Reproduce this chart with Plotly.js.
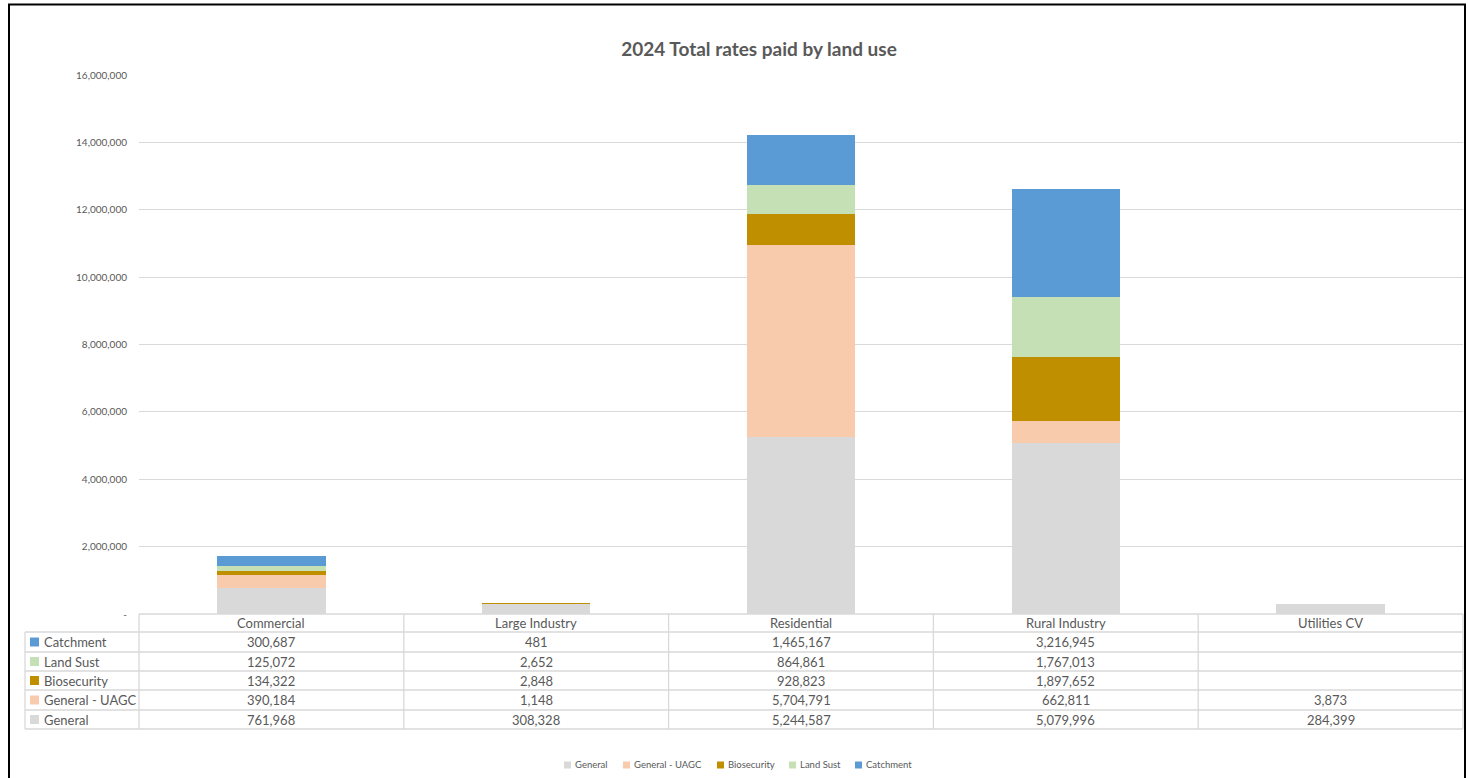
<!DOCTYPE html>
<html>
<head>
<meta charset="utf-8">
<script src="https://cdn.plot.ly/plotly-3.0.1.min.js"></script>
<style>html,body{margin:0;padding:0;background:#fff;}#chart{width:1468px;height:778px;}</style>
</head>
<body>
<div id="chart"></div>
<script>
// ---- data ----
const categories = ['Commercial', 'Large Industry', 'Residential', 'Rural Industry', 'Utilities CV'];
const general      = [761968, 308328, 5244587, 5079996, 284399];
const generalUAGC  = [390184, 1148, 5704791, 662811, 3873];
const biosecurity  = [134322, 2848, 928823, 1897652, null];
const landSust     = [125072, 2652, 864861, 1767013, null];
const catchment    = [300687, 481, 1465167, 3216945, null];
const seriesNames  = ['General', 'General - UAGC', 'Biosecurity', 'Land Sust', 'Catchment'];
const seriesValues = [general, generalUAGC, biosecurity, landSust, catchment];
const seriesColors = ['#D9D9D9', '#F8CBAD', '#BF8F00', '#C5E0B4', '#5B9BD5'];
const tableOrder   = [4, 3, 2, 1, 0]; // rows top to bottom
const yTickVals    = [0, 2000000, 4000000, 6000000, 8000000, 10000000, 12000000, 14000000, 16000000];
const yTickText    = ['-', '2,000,000', '4,000,000', '6,000,000', '8,000,000', '10,000,000', '12,000,000', '14,000,000', '16,000,000'];

// ---- geometry helpers (pixel -> paper) ----
const W = 1468, H = 778;
const L = 139, R = 1463, T = 75, B = 614;
const px = p => (p - L) / (R - L);
const py = p => (B - p) / (B - T);
const FONT = 'Lato, "Open Sans", sans-serif';
const TXT = '#595959';
const GRID = '#D9D9D9';
const legendKeyX = [564, 623, 717, 789, 855]; // legend key left edges (px)

const traces = seriesNames.map((n, i) => ({
  type: 'bar', name: n, x: categories, y: seriesValues[i],
  marker: {color: seriesColors[i], line: {width: 0}},
  hoverinfo: 'x+y+name', showlegend: false
}));

const shapes = [];
const annotations = [];
const fmt = v => (v === null || v === undefined) ? '' : v.toLocaleString('en-US');

// table horizontal lines
const rowTops = [614, 632, 652, 671, 690, 710, 729];
rowTops.forEach((y, k) => {
  shapes.push({type: 'line', xref: 'paper', yref: 'paper',
    x0: k === 0 ? 0 : px(25), x1: 1, y0: py(y), y1: py(y),
    line: {color: GRID, width: 1.3}});
});
// vertical lines
shapes.push({type: 'line', xref: 'paper', yref: 'paper', x0: px(25), x1: px(25), y0: py(632), y1: py(729), line: {color: GRID, width: 1.3}});
for (let c = 0; c <= categories.length; c++) {
  const xp = c / categories.length;
  shapes.push({type: 'line', xref: 'paper', yref: 'paper', x0: xp, x1: xp, y0: py(614), y1: py(729), line: {color: GRID, width: 1.3}});
}
// header labels
categories.forEach((cat, c) => {
  annotations.push({xref: 'x', yref: 'paper', x: cat, y: py(623), text: cat, showarrow: false,
    font: {family: FONT, size: 13, color: TXT}, xanchor: 'center', yanchor: 'middle'});
});
// rows
tableOrder.forEach((si, r) => {
  const yc = (rowTops[r + 1] + rowTops[r + 2]) / 2;
  shapes.push({type: 'rect', xref: 'paper', yref: 'paper', x0: px(30), x1: px(39), y0: py(yc - 4.5), y1: py(yc + 4.5),
    fillcolor: seriesColors[si], line: {width: 0}});
  annotations.push({xref: 'paper', yref: 'paper', x: px(42), y: py(yc), text: seriesNames[si], showarrow: false,
    font: {family: FONT, size: 13, color: TXT}, xanchor: 'left', yanchor: 'middle'});
  categories.forEach((cat, c) => {
    const v = seriesValues[si][c];
    if (v === null) return;
    annotations.push({xref: 'x', yref: 'paper', x: cat, y: py(yc), text: fmt(v), showarrow: false,
      font: {family: FONT, size: 13, color: TXT}, xanchor: 'center', yanchor: 'middle'});
  });
});
// bottom legend
seriesNames.forEach((n, i) => {
  const kx = legendKeyX[i], ky = 765;
  shapes.push({type: 'rect', xref: 'paper', yref: 'paper', x0: px(kx), x1: px(kx + 7), y0: py(ky - 3.5), y1: py(ky + 3.5),
    fillcolor: seriesColors[i], line: {width: 0}});
  annotations.push({xref: 'paper', yref: 'paper', x: px(kx + 9), y: py(ky), text: n, showarrow: false,
    font: {family: FONT, size: 9.5, color: TXT}, xanchor: 'left', yanchor: 'middle'});
});
// outer border
shapes.push({type: 'rect', xref: 'paper', yref: 'paper', x0: px(9), x1: px(1465), y0: py(4.5), y1: py(800),
  line: {color: '#000', width: 2}, fillcolor: 'rgba(0,0,0,0)'});

const layout = {
  width: W, height: H,
  margin: {l: L, r: W - R, t: T, b: H - B, pad: 0},
  paper_bgcolor: '#fff', plot_bgcolor: '#fff',
  barmode: 'stack', bargap: 0.59,
  title: {text: '<b>2024 Total rates paid by land use</b>', x: 759 / W, xref: 'container', xanchor: 'center',
    y: 1 - 49 / H, yref: 'container', yanchor: 'middle',
    font: {family: FONT, size: 19, color: TXT}},
  xaxis: {type: 'category', range: [-0.5, 4.5], showticklabels: false, showgrid: false, zeroline: false,
    showline: false, ticks: '', fixedrange: true},
  yaxis: {range: [0, 16000000], tickvals: yTickVals, ticktext: yTickText, showgrid: true, gridcolor: GRID,
    gridwidth: 1, zeroline: false, showline: false, ticks: '', ticklabelstandoff: 11,
    tickfont: {family: FONT, size: 10, color: TXT}, fixedrange: true},
  showlegend: false,
  shapes: shapes, annotations: annotations
};

Plotly.newPlot('chart', traces, layout, {displayModeBar: false, staticPlot: true});
</script>
</body>
</html>
